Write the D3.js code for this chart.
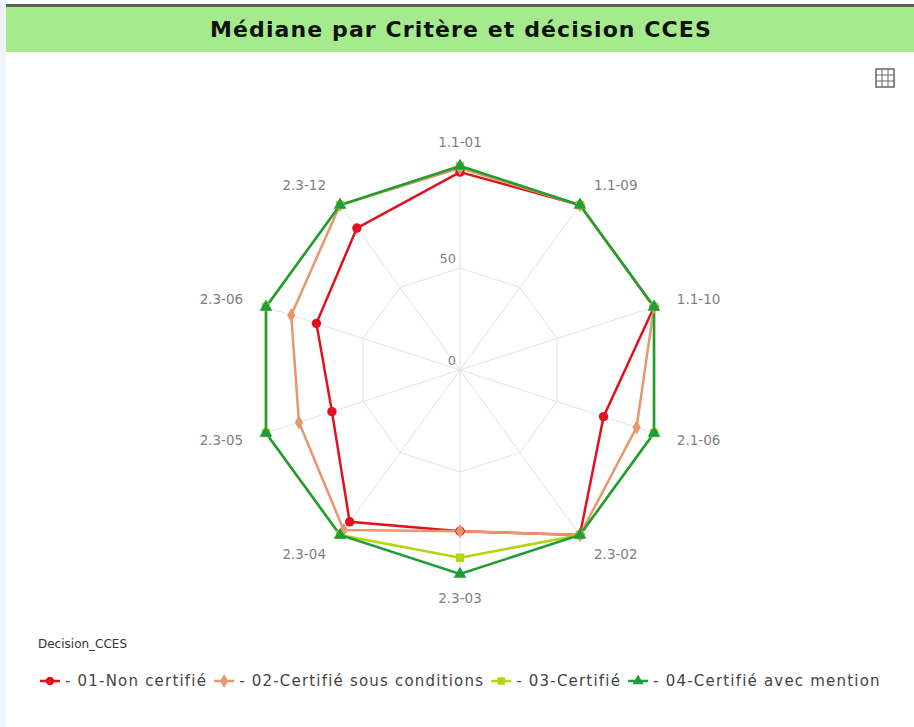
<!DOCTYPE html>
<html>
<head>
<meta charset="utf-8">
<script src="https://cdn.jsdelivr.net/npm/d3@7"></script>
<style>
  body { margin: 0; background: #eef4fc; font-family: "DejaVu Sans", sans-serif; }
  svg { display: block; }
</style>
</head>
<body>
<svg id="chart" width="914" height="727"></svg>
<script>
// axes, clockwise from the top
const criteres = ["1.1-01", "1.1-09", "1.1-10", "2.1-06", "2.3-02", "2.3-03", "2.3-04", "2.3-05", "2.3-06", "2.3-12"];
const seriesNames = ["01-Non certifié", "02-Certifié sous conditions", "03-Certifié", "04-Certifié avec mention"];
const nonCertifie = [97, 100, 100, 74, 100, 79, 92, 66, 74, 86];
const sousConditions = [99, 100, 100, 91, 100, 79, 97, 83, 87, 100];
const certifie = [100, 100, 100, 100, 100, 92, 100, 100, 100, 100];
const avecMention = [100, 100, 100, 100, 100, 100, 100, 100, 100, 100];
const gridTicks = [0, 50];

const seriesColors = ["#e3101e", "#e8976c", "#b4d40c", "#1f9c3c"];
const seriesSymbols = [d3.symbolCircle, d3.symbolDiamond, d3.symbolSquare, d3.symbolTriangle];

let svg = d3.select("#chart");

// panel
svg.append("rect").attr("x", 6).attr("y", 0).attr("width", 908).attr("height", 727).attr("fill", "#fff");
svg.append("rect").attr("x", 6).attr("y", 4).attr("width", 908).attr("height", 3).attr("fill", "#5a6058");
svg.append("rect").attr("x", 6).attr("y", 7).attr("width", 908).attr("height", 45).attr("fill", "#a5eb8d");
svg.append("text")
  .attr("x", 461).attr("y", 37)
  .attr("text-anchor", "middle")
  .attr("font-size", "22px")
  .attr("letter-spacing", "1.1px")
  .attr("font-weight", "bold")
  .attr("fill", "#111")
  .text("Médiane par Critère et décision CCES");

// table icon
let icon = svg.append("g").attr("transform", "translate(876, 69)").attr("stroke", "#666").attr("fill", "none");
icon.append("rect").attr("width", 18).attr("height", 18).attr("stroke-width", 1.5);
[6, 12].forEach(v => {
  icon.append("line").attr("x1", v).attr("x2", v).attr("y1", 0).attr("y2", 18);
  icon.append("line").attr("y1", v).attr("y2", v).attr("x1", 0).attr("x2", 18);
});

// radar
let cx = 460, cy = 370;
let r = d3.scaleLinear().domain([0, 100]).range([0, 204]);
let angle = d3.scalePoint().domain(criteres).range([0, 2 * Math.PI * (criteres.length - 1) / criteres.length]);
let px = (c, v) => cx + r(v) * Math.sin(angle(c));
let py = (c, v) => cy - r(v) * Math.cos(angle(c));

let g = svg.append("g");

// spokes
g.selectAll(".spoke").data(criteres).enter().append("line")
  .attr("x1", cx).attr("y1", cy)
  .attr("x2", d => px(d, 100)).attr("y2", d => py(d, 100))
  .attr("stroke", "#dfe2ee").attr("stroke-width", 1);

// rings
[50, 100].forEach(t => {
  g.append("path")
    .attr("d", d3.line()(criteres.map(c => [px(c, t), py(c, t)])) + "Z")
    .attr("fill", "none").attr("stroke", "#dfe2ee").attr("stroke-width", 1);
});

g.selectAll(".tick").data(gridTicks).enter().append("text")
  .attr("x", cx - 4).attr("y", d => cy - r(d) - 5)
  .attr("text-anchor", "end")
  .attr("font-size", "13px")
  .attr("fill", "#808080")
  .text(d => d);

// axis labels
let labR = 228;
g.selectAll(".lab").data(criteres).enter().append("text")
  .attr("x", d => cx + labR * Math.sin(angle(d)))
  .attr("y", d => cy - labR * Math.cos(angle(d)))
  .attr("dy", "0.35em")
  .attr("text-anchor", d => {
    let s = Math.sin(angle(d));
    return Math.abs(s) < 0.01 ? "middle" : (s > 0 ? "start" : "end");
  })
  .attr("font-size", "13.5px")
  .attr("fill", "#808080")
  .text(d => d);

// series
let allSeries = [nonCertifie, sousConditions, certifie, avecMention];
allSeries.forEach((vals, i) => {
  let pts = criteres.map((c, k) => [px(c, vals[k]), py(c, vals[k])]);
  g.append("path")
    .attr("d", d3.line()(pts) + "Z")
    .attr("fill", "none")
    .attr("stroke", seriesColors[i])
    .attr("stroke-width", 2.5);
});
allSeries.forEach((vals, i) => {
  let pts = criteres.map((c, k) => [px(c, vals[k]), py(c, vals[k])]);
  g.selectAll(".m" + i).data(pts).enter().append("path")
    .attr("transform", d => `translate(${d[0]},${d[1]})`)
    .attr("d", d3.symbol().type(seriesSymbols[i]).size(i === 1 ? 60 : 70))
    .attr("fill", seriesColors[i]);
});

// legend
svg.append("text")
  .attr("x", 38).attr("y", 648)
  .attr("font-size", "12px")
  .attr("fill", "#333")
  .text("Decision_CCES");

let lx = 40;
seriesNames.forEach((name, i) => {
  let lg = svg.append("g").attr("transform", `translate(${lx}, 681)`);
  lg.append("line").attr("x1", 0).attr("x2", 20).attr("stroke", seriesColors[i]).attr("stroke-width", 2.5);
  lg.append("path").attr("transform", "translate(10,0)")
    .attr("d", d3.symbol().type(seriesSymbols[i]).size(55))
    .attr("fill", seriesColors[i]);
  let t = lg.append("text")
    .attr("x", 25).attr("y", 5)
    .attr("font-size", "15px")
    .attr("letter-spacing", "1.2px")
    .attr("fill", "#444")
    .text("- " + name);
  lx += 25 + t.node().getComputedTextLength() + 7;
});
</script>
</body>
</html>
